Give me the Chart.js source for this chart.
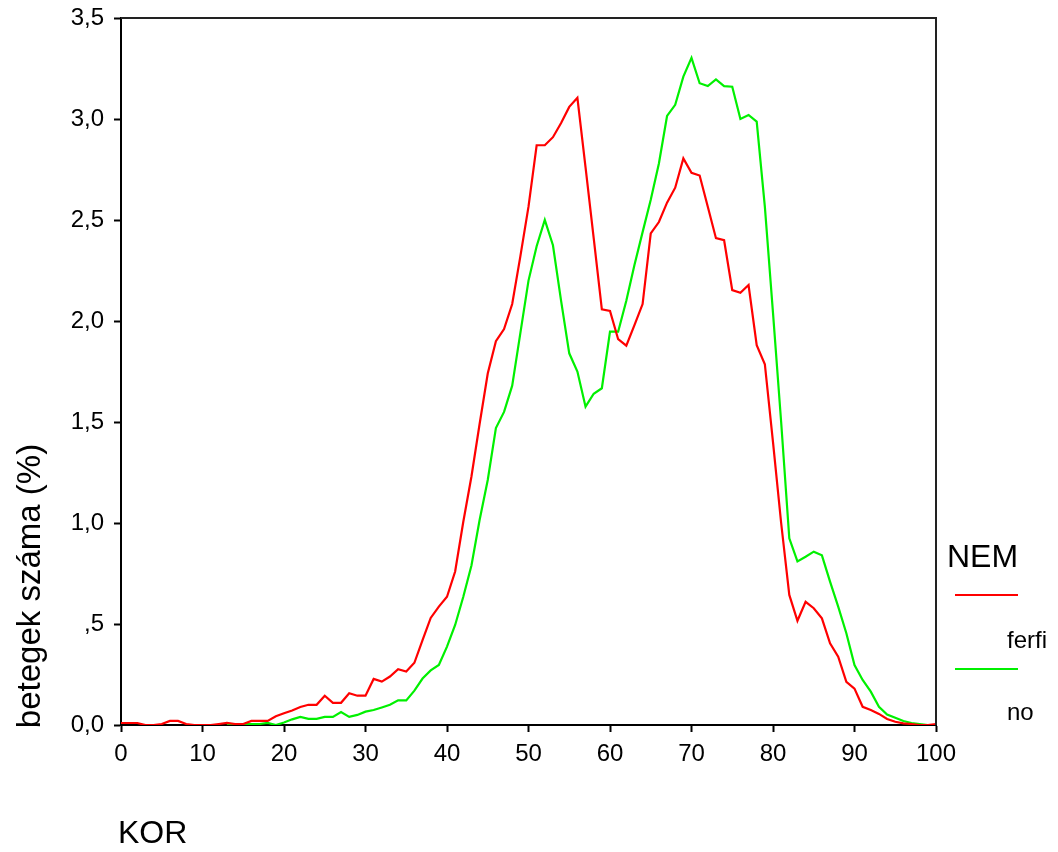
<!DOCTYPE html>
<html lang="hu">
<head>
    <meta charset="UTF-8">
    <title>betegek száma (%) - KOR</title>
    <script src="https://cdn.jsdelivr.net/npm/chart.js"></script>
    <style>
        html, body { margin: 0; padding: 0; background: #fff; }
        #wrap { width: 1058px; height: 852px; position: relative; }
    </style>
</head>
<body>
    <div id="wrap">
        <canvas id="korChart" width="1058" height="852"></canvas>
    </div>

    <script>
        // KOR (age) 0..100, one value per year
        const ages = [];
        for (let a = 0; a <= 100; a++) ages.push(a);

        // NEM = ferfi (red)
        const ferfi = [
            0.01, 0.01, 0.01, 0, 0, 0.005, 0.02, 0.02, 0.005, 0,
            0, 0, 0.005, 0.01, 0.005, 0.005, 0.02, 0.02, 0.02, 0.043,
            0.058, 0.072, 0.089, 0.1, 0.1, 0.145, 0.11, 0.11, 0.157, 0.145,
            0.145, 0.228, 0.215, 0.24, 0.276, 0.265, 0.308, 0.42, 0.53, 0.586,
            0.635, 0.76, 1.006, 1.23, 1.49, 1.74, 1.9, 1.96, 2.084, 2.32,
            2.566, 2.87, 2.87, 2.91, 2.98, 3.06, 3.105, 2.76, 2.41, 2.058,
            2.05, 1.91, 1.878, 1.98, 2.084, 2.434, 2.49, 2.586, 2.66, 2.805,
            2.734, 2.72, 2.566, 2.41, 2.4, 2.153, 2.14, 2.178, 1.88, 1.786,
            1.4, 1.0, 0.644, 0.516, 0.61, 0.578, 0.528, 0.404, 0.338, 0.214,
            0.18, 0.09, 0.074, 0.055, 0.03, 0.016, 0.008, 0.005, 0, 0,
            0.005
        ];

        // NEM = no (green); not drawn before age 13
        const no = [
            null, null, null, null, null, null, null, null, null, null,
            null, null, null, 0, 0.005, 0.005, 0.005, 0.005, 0.01, 0,
            0.012, 0.028, 0.04, 0.03, 0.03, 0.04, 0.04, 0.064, 0.04, 0.05,
            0.066, 0.074, 0.087, 0.1, 0.122, 0.122, 0.17, 0.23, 0.27, 0.297,
            0.388, 0.495, 0.635, 0.79, 1.015, 1.213, 1.47, 1.55, 1.68, 1.94,
            2.2, 2.37, 2.5, 2.375, 2.1, 1.84, 1.75, 1.576, 1.64, 1.667,
            1.947, 1.947, 2.1, 2.277, 2.44, 2.6, 2.78, 3.015, 3.07, 3.21,
            3.303, 3.177, 3.163, 3.196, 3.163, 3.16, 3.0, 3.02, 2.987, 2.566,
            2.04, 1.5, 0.924, 0.81, 0.833, 0.858, 0.84, 0.71, 0.586, 0.454,
            0.297, 0.223, 0.165, 0.09, 0.052, 0.036, 0.02, 0.01, 0.005, 0,
            0
        ];

        const yTickLabels = ['0,0', ',5', '1,0', '1,5', '2,0', '2,5', '3,0', '3,5'];
        const xTickLabels = ['0', '10', '20', '30', '40', '50', '60', '70', '80', '90', '100'];
        const legendLabels = ['ferfi', 'no'];

        const FONT = "'Liberation Sans', Arial, sans-serif";

        // box lines on top/right, axis titles and the NEM legend
        const decorPlugin = {
            id: 'decor',
            afterDraw(chart) {
                const { ctx, chartArea: { left, right, top, bottom } } = chart;
                ctx.save();
                ctx.strokeStyle = '#222';
                ctx.lineWidth = 2;
                ctx.beginPath();
                ctx.moveTo(left, top);
                ctx.lineTo(right, top);
                ctx.lineTo(right, bottom);
                ctx.stroke();

                ctx.fillStyle = '#000';
                // y title
                ctx.save();
                ctx.translate(31, 586);
                ctx.rotate(-Math.PI / 2);
                ctx.font = '33px ' + FONT;
                ctx.textAlign = 'center';
                ctx.textBaseline = 'middle';
                ctx.fillText('betegek száma (%)', 0, 0);
                ctx.restore();

                // x title
                ctx.font = '32px ' + FONT;
                ctx.textAlign = 'left';
                ctx.textBaseline = 'alphabetic';
                ctx.fillText('KOR', 118, 843);

                // legend
                ctx.font = '32px ' + FONT;
                ctx.fillText('NEM', 947, 567);
                const ds = chart.data.datasets;
                const rows = [{ ly: 595, ty: 648 }, { ly: 669, ty: 720 }];
                rows.forEach((r, i) => {
                    ctx.strokeStyle = ds[i].borderColor;
                    ctx.lineWidth = 2;
                    ctx.beginPath();
                    ctx.moveTo(955, r.ly);
                    ctx.lineTo(1018, r.ly);
                    ctx.stroke();
                    ctx.font = '24px ' + FONT;
                    ctx.fillText(legendLabels[i], 1007, r.ty);
                });
                ctx.restore();
            }
        };

        new Chart(document.getElementById('korChart'), {
            type: 'line',
            data: {
                datasets: [
                    {
                        label: 'ferfi',
                        data: ages.map((a, i) => ({ x: a, y: ferfi[i] })),
                        borderColor: '#ff0000',
                        borderWidth: 2.2,
                        pointRadius: 0,
                        tension: 0,
                        spanGaps: false
                    },
                    {
                        label: 'no',
                        data: ages.map((a, i) => ({ x: a, y: no[i] })),
                        borderColor: '#00f000',
                        borderWidth: 2.2,
                        pointRadius: 0,
                        tension: 0,
                        spanGaps: false
                    }
                ]
            },
            options: {
                responsive: false,
                animation: false,
                layout: { padding: { top: 18, right: 122, left: 0, bottom: 0 } },
                scales: {
                    x: {
                        type: 'linear',
                        min: 0, max: 100,
                        afterFit: (s) => { s.height = 127; s.paddingLeft = 0; s.paddingRight = 0; },
                        border: { color: '#000', width: 2 },
                        grid: { drawOnChartArea: false, tickLength: 7, tickColor: '#000', tickWidth: 2 },
                        ticks: {
                            stepSize: 10,
                            color: '#000',
                            padding: 8,
                            maxRotation: 0,
                            font: { family: FONT, size: 24 },
                            callback: (v) => xTickLabels[Math.round(v / 10)]
                        }
                    },
                    y: {
                        min: 0, max: 3.5,
                        afterFit: (s) => { s.width = 121; s.paddingTop = 0; s.paddingBottom = 0; },
                        border: { color: '#000', width: 2 },
                        grid: { drawOnChartArea: false, tickLength: 7, tickColor: '#000', tickWidth: 2 },
                        ticks: {
                            stepSize: 0.5,
                            color: '#000',
                            padding: 10,
                            font: { family: FONT, size: 24 },
                            callback: (v) => yTickLabels[Math.round(v * 2)]
                        }
                    }
                },
                plugins: {
                    legend: { display: false },
                    tooltip: { enabled: false }
                }
            },
            plugins: [decorPlugin]
        });
    </script>
</body>
</html>
